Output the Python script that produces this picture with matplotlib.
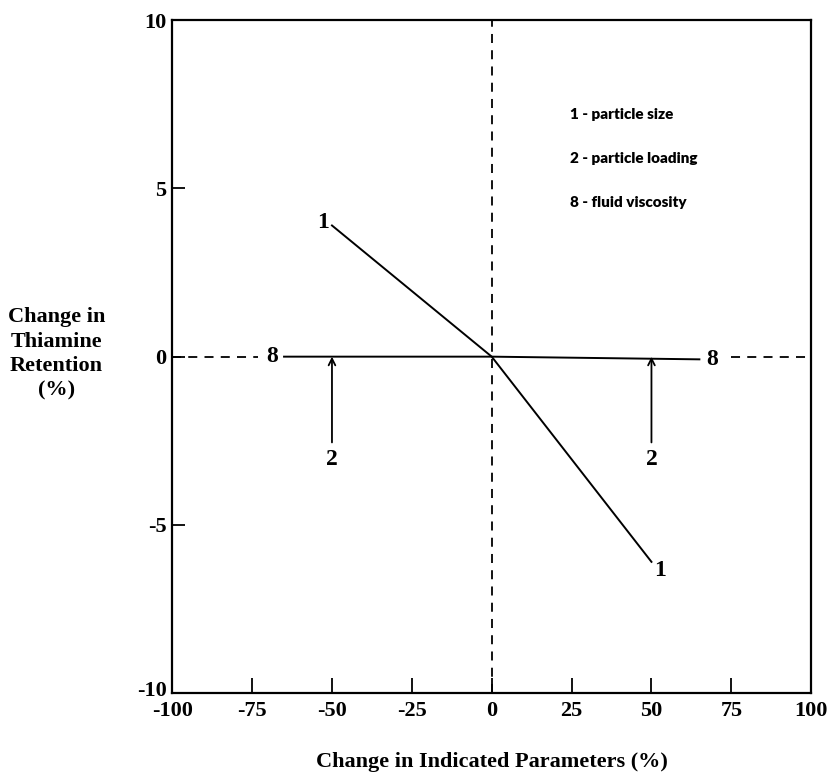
import matplotlib
matplotlib.use('Agg')
import matplotlib.pyplot as plt
import matplotlib.transforms as mtransforms

# Curve 1 - particle size
x_size = [-50, 0, 50]
y_size = [3.9, 0, -6.1]

# Curve 8 - fluid viscosity (practically flat)
x_visc = [-65, 0, 65]
y_visc = [0.0, 0.0, -0.08]

# Curve 2 - particle loading (no change, marked with arrows)
x_load = [-50, 50]
y_load = [0.0, 0.0]

x_ticks = [-100, -75, -50, -25, 0, 25, 50, 75, 100]
y_ticks = [-10, -5, 0, 5, 10]

legend_lines = ["1 - particle size", "2 - particle loading", "8 - fluid viscosity"]

plt.rcParams['font.family'] = ['Liberation Serif', 'DejaVu Serif']
plt.rcParams['font.weight'] = 'bold'
plt.rcParams['axes.labelweight'] = 'bold'

fig = plt.figure(figsize=(8.32, 7.8), dpi=100)
ax = fig.add_axes([0.207, 0.1115, 0.768, 0.8625])

ax.set_xlim(-100, 100)
ax.set_ylim(-10, 10)

# dashed reference axes
dash = (0, (5, 4))
ax.plot([0, 0], [-10, 10], color='black', lw=1.3, ls=dash)
ax.plot([-100, -73], [0, 0], color='black', lw=1.3, ls=dash)
ax.plot([75, 100], [0, 0], color='black', lw=1.3, ls=dash)

# curves
ax.plot(x_size, y_size, color='black', lw=1.4)
ax.plot(x_visc, y_visc, color='black', lw=1.4)

ax.text(x_size[0] - 1.0, y_size[0] + 0.1, '1', fontsize=17, ha='right', va='center')
ax.text(x_size[-1] + 0.8, y_size[-1] - 0.25, '1', fontsize=17, ha='left', va='center')
ax.text(x_visc[0] - 3.7, y_visc[0], '8', fontsize=17, ha='center', va='center')
ax.text(x_visc[-1] + 4.0, y_visc[-1], '8', fontsize=17, ha='center', va='center')

for xv, yv in zip(x_load, y_load):
    ax.annotate('', xy=(xv, yv), xytext=(xv, yv - 2.55),
                arrowprops=dict(arrowstyle='->', color='black', lw=1.3,
                                mutation_scale=12, shrinkA=0, shrinkB=0))
    ax.text(xv, yv - 3.05, '2', fontsize=17, ha='center', va='center')

for i, t in enumerate(legend_lines):
    ax.text(24.6, 7.19 - i * 1.31, t, fontsize=11, family=['Lato', 'DejaVu Sans'],
            fontweight='heavy', ha='left', va='center')

ax.set_xticks(x_ticks)
ax.set_yticks(y_ticks)
ax.set_xticklabels([str(v) for v in x_ticks], fontsize=16)
ax.set_yticklabels([str(v) for v in y_ticks], fontsize=16)
ax.tick_params(axis='x', direction='in', length=11, width=1.3, pad=6)
ax.tick_params(axis='y', direction='in', length=9, width=1.3, pad=4)
for s in ax.spines.values():
    s.set_linewidth(1.6)

# nudge the -10 label up so it sits just above -100 in the corner
lab = ax.get_yticklabels()[0]
lab.set_transform(lab.get_transform() + mtransforms.ScaledTranslation(0, 5 / 100, fig.dpi_scale_trans))

ax.set_xlabel('Change in Indicated Parameters (%)', fontsize=16, labelpad=22)
fig.text(0.068, 1 - 354 / 780, 'Change in\nThiamine\nRetention\n(%)', fontsize=16,
         ha='center', va='center', linespacing=1.3)

fig.savefig('out.png', dpi=100)
